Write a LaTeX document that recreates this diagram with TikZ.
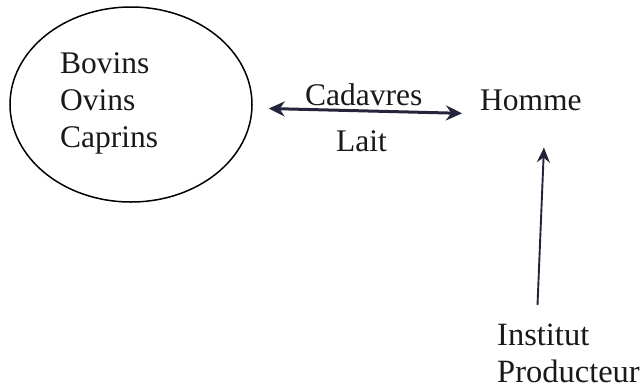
\documentclass[tikz,border=0pt]{standalone}
\usepackage{fontspec}
\setmainfont{Liberation Serif}
\usetikzlibrary{arrows.meta,calc,shapes.geometric}
\definecolor{ink}{HTML}{24243A}
\tikzset{
  lbl/.style={inner sep=0pt, font=\fontsize{31.5}{37}\selectfont, text=black!90},
  bigstealth/.tip={Stealth[length=16pt,width=15pt]},
  flow/.style={draw=ink, line width=3pt},
  feed/.style={draw=ink, line width=1.9pt}
}
\begin{document}
\begin{tikzpicture}[x=1pt,y=-1pt]
  \useasboundingbox (0,0) rectangle (642,389);
  % livestock group
  \node[ellipse, draw, line width=1.5pt, minimum width=242pt, minimum height=195pt, inner sep=0pt] (animaux) at (131,104.5) {};
  \node[lbl, align=left, anchor=north west] (especes) at (60,52) {Bovins\\Ovins\\Caprins};
  % human and institute
  \node[lbl, anchor=base west] (homme) at (480,110) {Homme};
  \node[lbl, align=left, anchor=north west, font=\fontsize{32.5}{37}\selectfont] (institut) at (497,324) {Institut\\Producteur};
  % exchange between animals and humans
  \draw[flow, bigstealth-bigstealth]
    ($(animaux.east)+(16,4)$) -- ($(homme.west)+(-18,13.5)$);
  \node[lbl, anchor=base west] (cadavres) at (305,105) {Cadavres};
  \node[lbl, anchor=base west] (lait) at (336,151) {Lait};
  % supply from the institute
  \draw[feed, -{Stealth[length=15pt,width=13pt]}] ($(institut.north)+(-31,-19)$) -- ($(homme.south)+(13,37)$);
\end{tikzpicture}
\end{document}
